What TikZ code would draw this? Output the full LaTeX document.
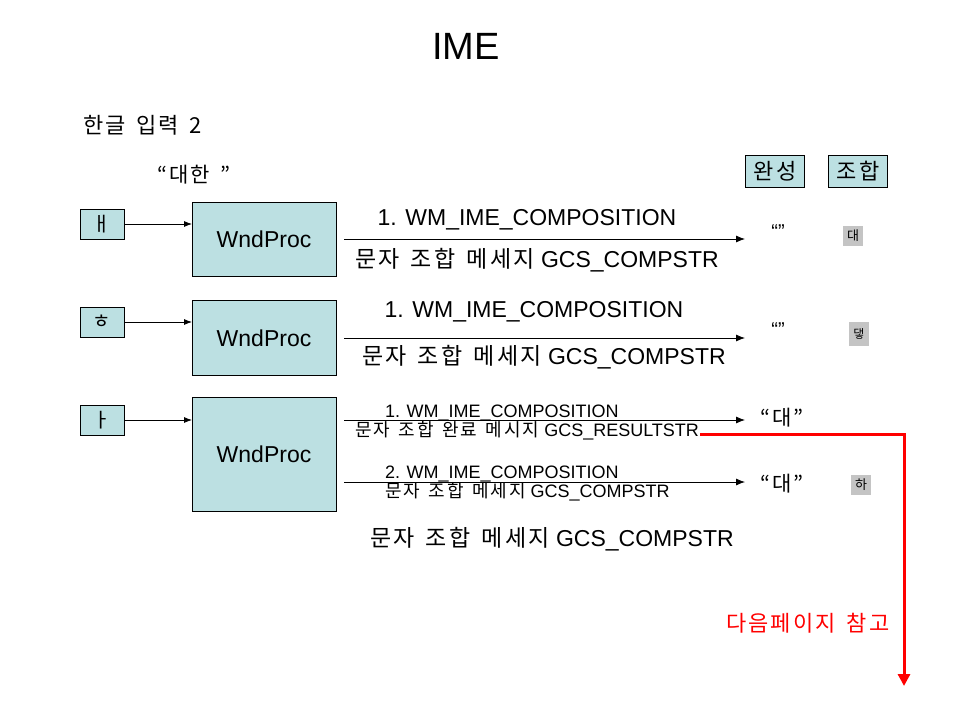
\documentclass[tikz,border=0pt]{standalone}
\usepackage{fontspec}
\setmainfont{Liberation Sans}
\newfontfamily\kr[LetterSpace=10,WordSpace=1.5]{Noto Sans CJK KR}
\usetikzlibrary{arrows.meta}
\definecolor{boxblue}{HTML}{BCE0E2}
\definecolor{chargray}{HTML}{C4C4C4}
\tikzset{
  every node/.style={inner sep=0pt, outer sep=0pt},
  jamo/.style={draw=black, fill=boxblue, line width=0.8pt, minimum width=44pt, minimum height=30pt, font=\kr\fontsize{20}{20}\selectfont},
  proc/.style={draw=black, fill=boxblue, line width=0.8pt, minimum width=144pt, font=\fontsize{23}{23}\selectfont},
  hdr/.style={draw=black, fill=boxblue, line width=0.8pt, minimum width=59pt, minimum height=32pt, font=\kr\fontsize{22}{22}\selectfont},
  big/.style={font=\fontsize{23}{23}\selectfont},
  small/.style={font=\fontsize{18}{18}\selectfont},
  ch/.style={fill=chargray, minimum width=20pt, minimum height=20pt, font=\kr\fontsize{13}{13}\selectfont},
  feed/.style={-{Latex[length=8pt,width=6pt]}, line width=0.8pt},
  msg/.style={-{Latex[length=9pt,width=7pt]}, line width=0.8pt},
  redarrow/.style={red, line width=3pt, -{Triangle[length=12pt,width=12pt]}},
}
\begin{document}
\begin{tikzpicture}[x=1pt,y=-1pt]
\useasboundingbox (0,0) rectangle (960,720);

\node (title) at (466,46) {\fontsize{38}{38}\selectfont IME};
\node[anchor=west] (sub) at (83,125) {\kr\fontsize{22}{22}\selectfont 한글 입력 2};
\node[anchor=west] (word) at (157,175) {\kr\fontsize{21}{21}\selectfont “대한 ”};
\node[hdr] (wan) at (775,171) {완성};
\node[hdr] (jo) at (858,171) {조합};

% row 1
\node[jamo] (j1) at (102,224) {ㅐ};
\node[proc, minimum height=74pt] (p1) at (264,239) {WndProc};
\draw[feed] (j1.east) -- (p1.west |- j1.east);
\coordinate (a1s) at (344,239);
\coordinate (a1e) at (745,239);
\draw[msg] (a1s) -- (a1e);
\node[big] (t1a) at (527,220) {1. WM\_IME\_COMPOSITION};
\node[big, anchor=west] (t1b) at (355,260) {\kr 문자 조합 메세지\normalfont\fontsize{23}{23}\selectfont{} GCS\_COMPSTR};
\node (q1) at (778,232) {\fontsize{20}{20}\selectfont “”};
\node[ch] (c1) at (853,236) {대};

% row 2
\node[jamo] (j2) at (102,322) {ㅎ};
\node[proc, minimum height=75pt] (p2) at (264,338) {WndProc};
\draw[feed] (j2.east) -- (p2.west |- j2.east);
\coordinate (a2s) at (344,338);
\coordinate (a2e) at (745,338);
\draw[msg] (a2s) -- (a2e);
\node[big] (t2a) at (534,312) {1. WM\_IME\_COMPOSITION};
\node[big, anchor=west] (t2b) at (362,357) {\kr 문자 조합 메세지\normalfont\fontsize{23}{23}\selectfont{} GCS\_COMPSTR};
\node (q2) at (778,330) {\fontsize{20}{20}\selectfont “”};
\node[ch, minimum height=24pt] (c2) at (859,334) {\fontsize{12}{12}\selectfont 댛};

% row 3
\node[jamo] (j3) at (102,420) {ㅏ};
\node[proc, minimum height=114pt] (p3) at (264,454) {WndProc};
\draw[feed] (j3.east) -- (p3.west |- j3.east);
\coordinate (a3s) at (344,420);
\coordinate (a3e) at (745,420);
\coordinate (a4s) at (344,482);
\coordinate (a4e) at (745,482);
\node[small, anchor=west] (t3a) at (385,413) {1. WM\_IME\_COMPOSITION};
\node[small, anchor=west] (t3b) at (355,431) {\kr 문자 조합 완료 메시지\normalfont\fontsize{18}{18}\selectfont{} GCS\_RESULTSTR};
\draw[msg] (a3s) -- (a3e);
\node[small, anchor=west] (t4a) at (385,474) {2. WM\_IME\_COMPOSITION};
\node[small, anchor=west] (t4b) at (385,492) {\kr 문자 조합 메세지\normalfont\fontsize{18}{18}\selectfont{} GCS\_COMPSTR};
\draw[msg] (a4s) -- (a4e);
\node[anchor=west] (q3) at (760,418) {\kr\fontsize{21}{21}\selectfont “대”};
\node[anchor=west] (q4) at (760,484) {\kr\fontsize{21}{21}\selectfont “대”};
\node[ch] (c3) at (861,485) {하};

\node[big, anchor=west] (t5) at (370,539) {\kr 문자 조합 메세지\normalfont\fontsize{23}{23}\selectfont{} GCS\_COMPSTR};

% red reference
\coordinate (rs) at (700,434);
\coordinate (rc) at (904,434);
\coordinate (re) at (904,686);
\draw[redarrow] (rs) -- (rc) -- (re);
\node[anchor=west, text=red] (note) at (726,623) {\kr\fontsize{22}{22}\selectfont 다음페이지 참고};
\end{tikzpicture}
\end{document}
